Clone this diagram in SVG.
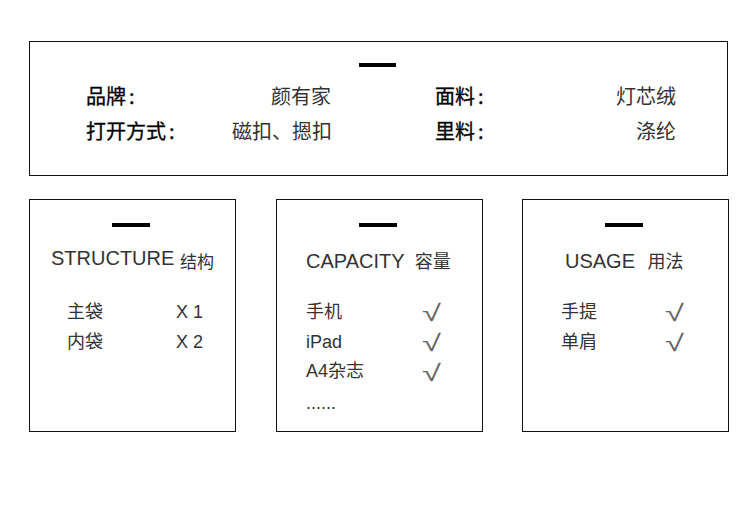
<svg xmlns="http://www.w3.org/2000/svg" width="750" height="522" viewBox="0 0 750 522">
<style>
.box{fill:#fff;stroke:#111;stroke-width:1}
.bar{fill:#000}
.lab{font-family:"Noto Sans CJK SC",sans-serif;font-size:20px;fill:#000;stroke:#000;stroke-width:0.3}
.val{font-family:"Noto Sans CJK SC",sans-serif;font-size:20px;fill:#333}
.ttl{font-family:"Liberation Sans","Noto Sans CJK SC",sans-serif;font-size:20px;fill:#333}
.it{font-family:"Liberation Sans","Noto Sans CJK SC",sans-serif;font-size:18px;fill:#333}
.ck{font-family:"DejaVu Sans",sans-serif;font-size:23px;font-weight:200;fill:#666}
</style>
<rect width="750" height="522" fill="#fff"/>
<g id="info">
<rect class="box" x="29.5" y="41.5" width="698" height="134"/>
<rect class="bar" x="359" y="63" width="37" height="4"/>
<text class="lab" x="86" y="104">品牌<tspan dx="3">:</tspan></text>
<text class="val" x="331" y="104" text-anchor="end">颜有家</text>
<text class="lab" x="435" y="104">面料<tspan dx="3">:</tspan></text>
<text class="val" x="676" y="104" text-anchor="end">灯芯绒</text>
<text class="lab" x="86" y="139">打开方式<tspan dx="3">:</tspan></text>
<text class="val" x="332" y="139" text-anchor="end">磁扣、摁扣</text>
<text class="lab" x="435" y="139">里料<tspan dx="3">:</tspan></text>
<text class="val" x="676" y="139" text-anchor="end">涤纶</text>
</g>
<g id="structure">
<rect class="box" x="29.5" y="199.5" width="206" height="232"/>
<rect class="bar" x="112" y="223" width="38" height="4"/>
<text class="ttl" x="51" y="265">STRUCTURE <tspan font-size="17" dy="3">结构</tspan></text>
<text class="it" x="67" y="318">主袋</text>
<text class="it" x="176" y="318">X 1</text>
<text class="it" x="67" y="348">内袋</text>
<text class="it" x="176" y="348">X 2</text>
</g>
<g id="capacity">
<rect class="box" x="276.5" y="199.5" width="206" height="232"/>
<rect class="bar" x="359" y="223" width="38" height="4"/>
<text class="ttl" x="306" y="268">CAPACITY <tspan font-size="18" dx="5">容量</tspan></text>
<text class="it" x="306" y="318">手机</text>
<text class="ck" transform="translate(422,321) scale(1.5,1)">√</text>
<text class="it" x="306" y="348">iPad</text>
<text class="ck" transform="translate(422,351) scale(1.5,1)">√</text>
<text class="it" x="306" y="377">A4杂志</text>
<text class="ck" transform="translate(422,381) scale(1.5,1)">√</text>
<text class="it" x="306" y="409">......</text>
</g>
<g id="usage">
<rect class="box" x="522.5" y="199.5" width="206" height="232"/>
<rect class="bar" x="605" y="223" width="38" height="4"/>
<text class="ttl" x="565" y="268">USAGE <tspan font-size="18" dx="7">用法</tspan></text>
<text class="it" x="561" y="318">手提</text>
<text class="ck" transform="translate(665,321) scale(1.5,1)">√</text>
<text class="it" x="561" y="348">单肩</text>
<text class="ck" transform="translate(665,351) scale(1.5,1)">√</text>
</g>
<g id="connectors"></g>
</svg>
